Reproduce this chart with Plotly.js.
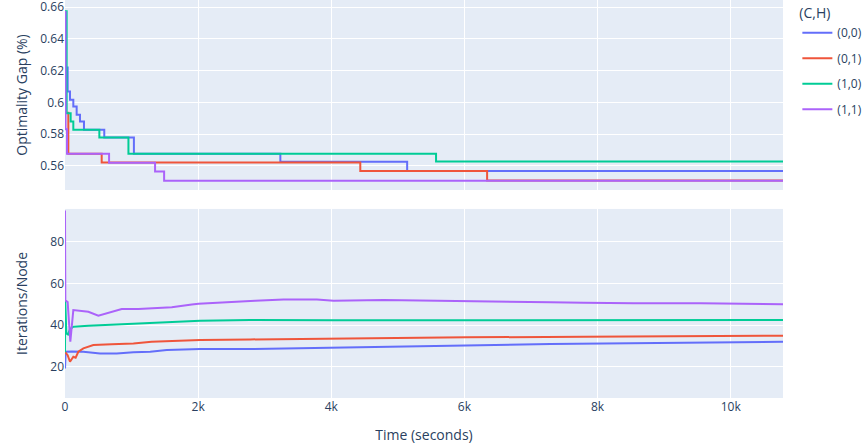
<!DOCTYPE html>
<html>
<head>
<meta charset="utf-8">
<script src="https://cdn.plot.ly/plotly-3.0.1.min.js"></script>
<style>html,body{margin:0;padding:0;background:#fff;}#chart{width:863px;height:444px;}</style>
</head>
<body>
<div id="chart"></div>
<script>
// Series names
const seriesNames = ["(0,0)", "(0,1)", "(1,0)", "(1,1)"];
const seriesColors = ["#636efa", "#EF553B", "#00cc96", "#ab63fa"];

// Optimality gap (%) step series: times (s) and values
const gapT00 = [0, 10, 40, 75, 125, 175, 225, 285, 590, 1035, 3235, 5140, 10786];
const gapV00 = [0.657, 0.622, 0.6068, 0.6016, 0.5974, 0.5922, 0.588, 0.5827, 0.5778, 0.5676, 0.5625, 0.5567, 0.5567];

const gapT01 = [0, 8, 50, 551, 4436, 6341, 10786];
const gapV01 = [0.614, 0.5935, 0.5676, 0.5621, 0.5567, 0.5507, 0.5507];

const gapT10 = [0, 25, 85, 125, 516, 953, 5574, 10786];
const gapV10 = [0.6575, 0.5932, 0.588, 0.5827, 0.5778, 0.5676, 0.5627, 0.5627];

const gapT11 = [0, 8, 30, 662, 1353, 1489, 10786];
const gapV11 = [0.657, 0.583, 0.5676, 0.5619, 0.5564, 0.5506, 0.5506];

// Iterations per node series
const itT00 = [0, 10, 100, 276, 526, 777, 1028, 1280, 1529, 2030, 2782, 4035, 5789, 7293, 8796, 10401, 10786];
const itV00 = [19.2, 27.2, 27.3, 27.2, 26.4, 26.4, 26.9, 27.2, 28.0, 28.5, 28.5, 29.3, 30.1, 30.9, 31.5, 32.0, 32.0];

const itT01 = [0, 10, 40, 75, 100, 125, 160, 200, 276, 426, 700, 1028, 1300, 2030, 2782, 4035, 6040, 7794, 9549, 10786];
const itV01 = [27.2, 26.6, 25.5, 22.4, 23.5, 24.8, 24.3, 27.2, 28.8, 30.4, 30.8, 31.2, 32.0, 32.8, 33.1, 33.6, 34.1, 34.4, 34.9, 34.9];

const itT10 = [0, 3, 20, 45, 75, 125, 351, 852, 1354, 2030, 2782, 3283, 4035, 5789, 7293, 8546, 10786];
const itV10 = [27, 52, 36, 35.5, 38, 39.2, 39.7, 40.5, 41.3, 42.1, 42.4, 42.5, 42.3, 42.3, 42.4, 42.3, 42.4];

const itT11 = [0, 5, 40, 80, 125, 200, 351, 501, 652, 852, 1103, 1604, 1905, 2005, 2857, 3283, 3784, 4035, 4787, 5789, 6391, 7293, 7794, 8546, 9549, 10401, 10786];
const itV11 = [95, 51.9, 51.0, 32, 47.2, 47.0, 46.4, 44.5, 46.0, 47.7, 47.7, 48.5, 49.9, 50.2, 51.7, 52.3, 52.3, 51.7, 52.0, 51.5, 51.0, 50.9, 50.7, 50.4, 50.4, 50.1, 50.0];

const gapT = [gapT00, gapT01, gapT10, gapT11];
const gapV = [gapV00, gapV01, gapV10, gapV11];
const itT = [itT00, itT01, itT10, itT11];
const itV = [itV00, itV01, itV10, itV11];

const traces = [];
for (let i = 0; i < 4; i++) {
  traces.push({
    x: gapT[i], y: gapV[i], type: "scatter", mode: "lines",
    line: {shape: "hv", color: seriesColors[i], width: 2},
    name: seriesNames[i], legendgroup: seriesNames[i], showlegend: true,
    xaxis: "x", yaxis: "y"
  });
}
for (let i = 0; i < 4; i++) {
  traces.push({
    x: itT[i], y: itV[i], type: "scatter", mode: "lines",
    line: {color: seriesColors[i], width: 2},
    name: seriesNames[i], legendgroup: seriesNames[i], showlegend: false,
    xaxis: "x2", yaxis: "y2"
  });
}

const layout = {
  width: 863, height: 444,
  margin: {l: 65, r: 80, t: 0, b: 46, autoexpand: false},
  paper_bgcolor: "#ffffff",
  plot_bgcolor: "#E5ECF6",
  font: {color: "#2a3f5f"},
  showlegend: true,
  legend: {title: {text: "(C,H)"}, tracegroupgap: 6.5, x: 1.02, y: 1, yanchor: "top"},
  xaxis: {domain: [0, 1], anchor: "y", matches: "x2", showticklabels: false,
          range: [0, 10786], dtick: 2000, gridcolor: "#ffffff", zeroline: false},
  yaxis: {domain: [0.5226, 1], anchor: "x", range: [0.5447, 0.6646], dtick: 0.02, tick0: 0,
          gridcolor: "#ffffff", zeroline: false, ticklabeloverflow: "allow",
          title: {text: "Optimality Gap (%)"}},
  xaxis2: {domain: [0, 1], anchor: "y2", range: [0, 10786], dtick: 2000,
           gridcolor: "#ffffff", zeroline: false,
           title: {text: "Time (seconds)"}},
  yaxis2: {domain: [0, 0.475], anchor: "x2", range: [5, 95.7], dtick: 20,
           gridcolor: "#ffffff", zeroline: false,
           title: {text: "Iterations/Node"}}
};

Plotly.newPlot("chart", traces, layout, {displayModeBar: false});
</script>
</body>
</html>
